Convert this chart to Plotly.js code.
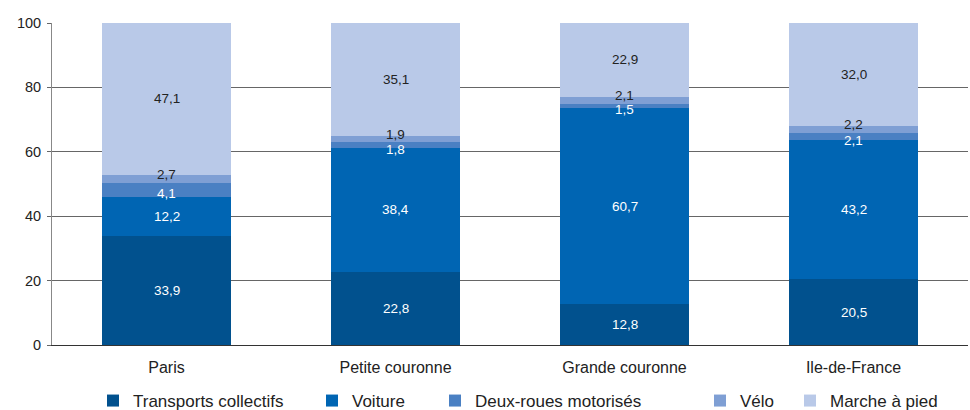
<!DOCTYPE html>
<html>
<head>
<meta charset="utf-8">
<script src="https://cdn.plot.ly/plotly-3.0.1.min.js"></script>
<style>html,body{margin:0;padding:0;background:#fff;}#chart{width:970px;height:410px;}</style>
</head>
<body>
<div id="chart"></div>
<script>
const categories = ["Paris", "Petite couronne", "Grande couronne", "Ile-de-France"];
const seriesNames = ["Transports collectifs", "Voiture", "Deux-roues motorisés", "Vélo", "Marche à pied"];
const transportsCollectifs = [33.9, 22.8, 12.8, 20.5];
const voiture = [12.2, 38.4, 60.7, 43.2];
const deuxRoues = [4.1, 1.8, 1.5, 2.1];
const velo = [2.7, 1.9, 2.1, 2.2];
const marche = [47.1, 35.1, 22.9, 32.0];
const yTicks = [0, 20, 40, 60, 80, 100];

const seriesValues = [transportsCollectifs, voiture, deuxRoues, velo, marche];
const colors = ["#01518e", "#0065b3", "#4a80c3", "#7f9fd4", "#b9c9e8"];
const labelColors = ["#ffffff", "#ffffff", "#ffffff", "#222222", "#222222"];
const labelShift = [0, 0, -4, 5, 0];

const font = "Liberation Sans, Arial, Helvetica, sans-serif";
const mL = 52, mR = 2, mT = 23, mB = 65, W = 970, H = 410;
const plotW = W - mL - mR, plotH = H - mT - mB;
const legendTextX = [133, 352, 475, 740, 830];
const legendCenterY = 401;

const traces = seriesValues.map((vals, i) => ({
  type: "bar",
  name: seriesNames[i],
  x: categories,
  y: vals,
  marker: {color: colors[i], line: {width: 0}},
  legend: i === 0 ? "legend" : "legend" + (i + 1),
  hoverinfo: "skip"
}));

const annotations = [];
const cum = categories.map(() => 0);
seriesValues.forEach((vals, i) => {
  vals.forEach((v, j) => {
    annotations.push({
      x: categories[j], y: cum[j] + v / 2, xref: "x", yref: "y",
      text: v.toFixed(1).replace(".", ","),
      showarrow: false, yshift: labelShift[i],
      font: {family: font, size: 13.5, color: labelColors[i]}
    });
    cum[j] += v;
  });
});

const layout = {
  width: W, height: H,
  margin: {l: mL, r: mR, t: mT, b: mB, pad: 0, autoexpand: false},
  paper_bgcolor: "#ffffff", plot_bgcolor: "#ffffff",
  barmode: "stack",
  bargap: 0.441,
  font: {family: font, size: 14, color: "#222"},
  showlegend: true,
  xaxis: {
    type: "category", showgrid: false, showline: true, linecolor: "#333", linewidth: 1,
    ticks: "", ticklabelstandoff: 8,
    tickfont: {family: font, size: 16, color: "#222"}, fixedrange: true
  },
  yaxis: {
    range: [0, 100], tickvals: yTicks, showgrid: true, gridcolor: "#666", gridwidth: 1,
    zeroline: true, zerolinecolor: "#333", zerolinewidth: 1,
    showline: true, linecolor: "#888", linewidth: 1,
    ticks: "outside", ticklen: 4, tickcolor: "#666", ticklabelstandoff: 3,
    tickfont: {family: font, size: 14.5, color: "#222"}, fixedrange: true
  },
  annotations: annotations
};
legendTextX.forEach((tx, i) => {
  const key = i === 0 ? "legend" : "legend" + (i + 1);
  layout[key] = {
    orientation: "h", x: (tx - 40 - mL) / plotW, xanchor: "left",
    y: -(legendCenterY - (mT + plotH)) / plotH, yanchor: "middle",
    font: {family: font, size: 17, color: "#222"},
    bgcolor: "rgba(0,0,0,0)", borderwidth: 0
  };
});

Plotly.newPlot("chart", traces, layout, {displayModeBar: false, staticPlot: true});
</script>
</body>
</html>
